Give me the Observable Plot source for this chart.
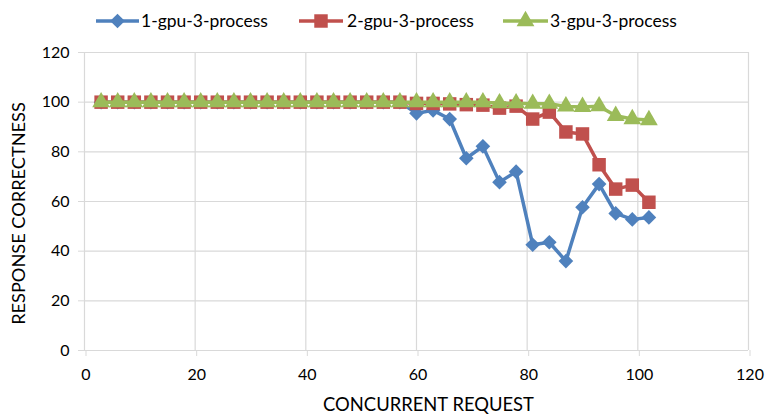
<!DOCTYPE html>
<html><head><meta charset="utf-8">
<script src="https://cdn.jsdelivr.net/npm/d3@7"></script>
<script src="https://cdn.jsdelivr.net/npm/@observablehq/plot@0.6"></script>
<style>
body{margin:0;background:#fff;font-family:Lato,"Open Sans",sans-serif;}
#legend{position:relative;height:38px;width:766px;}
#legend span{position:absolute;top:10px;font-size:17.5px;line-height:22px;color:#000;white-space:nowrap;}
</style></head><body>
<div id="legend"></div>
<div id="chart"></div>
<script>
const seriesNames = ["1-gpu-3-process","2-gpu-3-process","3-gpu-3-process"];
const seriesColors = ["#4F81BD","#C0504D","#9BBB59"];
const seriesSymbols = ["diamond2","square","triangle"];
const requests = [3,6,9,12,15,18,21,24,27,30,33,36,39,42,45,48,51,54,57,60,63,66,69,72,75,78,81,84,87,90,93,96,99,102];
const gpu1 = [100,100,100,100,100,100,100,100,100,100,100,100,100,100,100,100,100,100,100,95.5,96.7,93.2,77.4,82.2,67.8,72.0,42.6,43.6,36.0,57.7,67.0,55.2,52.8,53.6];
const gpu2 = [100,100,100,100,100,100,100,100,100,100,100,100,100,100,100,100,100,100,100,99.5,99.5,99.3,99.0,98.8,97.6,98.4,93.2,96.0,88.0,87.2,74.8,65.0,66.6,59.7];
const gpu3 = [100,100,100,100,100,100,100,100,100,100,100,100,100,100,100,100,100,100,100,100,100,100,100,100,99.6,99.6,99.4,99.4,98.3,98.1,98.4,94.5,93.2,92.8];
const xTicks = [0,20,40,60,80,100,120];
const yTicks = [0,20,40,60,80,100,120];
const xTitle = "CONCURRENT REQUEST";
const yTitle = "RESPONSE CORRECTNESS";

const seriesValues = [gpu1, gpu2, gpu3];
const rows = seriesValues.map((vals, k) => requests.map((x, i) => ({x, y: vals[i], s: seriesNames[k]})));
const symbolR = [6.6, 7.6, 6.6];

const marks = [
  Plot.gridX(xTicks, {stroke: "#D9D9D9", strokeOpacity: 1, strokeWidth: 1.2}),
  Plot.gridY(yTicks, {stroke: "#D9D9D9", strokeOpacity: 1, strokeWidth: 1.2}),
  Plot.axisY(yTicks, {tickSize: 6, tickPadding: 9, stroke: "#D9D9D9", label: null, fontSize: 16}),
  Plot.axisX(xTicks, {tickSize: 6, tickPadding: 12, stroke: "#D9D9D9", label: null, fontSize: 16, letterSpacing: "3px", dx: 1.5}),
  Plot.text([yTitle], {frameAnchor: "left", textAnchor: "middle", lineAnchor: "middle", dx: -65, dy: 12, rotate: -90, fontSize: 18.2}),
  Plot.text([xTitle], {frameAnchor: "bottom", textAnchor: "middle", lineAnchor: "middle", dx: 12, dy: 55, fontSize: 18.4})
];
rows.forEach((data, k) => {
  marks.push(Plot.line(data, {x: "x", y: "y", stroke: seriesColors[k], strokeWidth: 3.5}));
  marks.push(Plot.dot(data, {x: "x", y: "y", symbol: () => seriesSymbols[k], fill: seriesColors[k], stroke: "none", r: symbolR[k]}));
});

const chart = Plot.plot({
  width: 766, height: 377,
  marginTop: 14, marginBottom: 65, marginLeft: 84, marginRight: 18,
  x: {domain: [0, 120]},
  y: {domain: [0, 120]},
  symbol: {type: "identity"},
  style: {fontFamily: "Lato, 'Open Sans', sans-serif", color: "#000", background: "#fff", overflow: "visible"},
  marks
});
document.getElementById("chart").appendChild(chart);

// legend
const legendPos = [{line: [96, 139], text: 141}, {line: [299, 343], text: 347}, {line: [503, 548], text: 550}];
const legend = document.getElementById("legend");
const symMap = {diamond2: d3.symbolDiamond2, square: d3.symbolSquare, triangle: d3.symbolTriangle};
seriesNames.forEach((name, k) => {
  const p = legendPos[k];
  const svg = d3.create("svg").attr("width", 766).attr("height", 38)
    .style("position", "absolute").style("left", 0).style("top", 0);
  svg.append("line").attr("x1", p.line[0]).attr("x2", p.line[1]).attr("y1", 21).attr("y2", 21)
    .attr("stroke", seriesColors[k]).attr("stroke-width", 3.5);
  svg.append("path").attr("d", d3.symbol(symMap[seriesSymbols[k]], Math.PI * symbolR[k] ** 2)())
    .attr("transform", `translate(${(p.line[0] + p.line[1]) / 2},21)`).attr("fill", seriesColors[k]);
  legend.appendChild(svg.node());
  const span = document.createElement("span");
  span.textContent = name;
  span.style.left = p.text + "px";
  legend.appendChild(span);
});
</script>
</body></html>
